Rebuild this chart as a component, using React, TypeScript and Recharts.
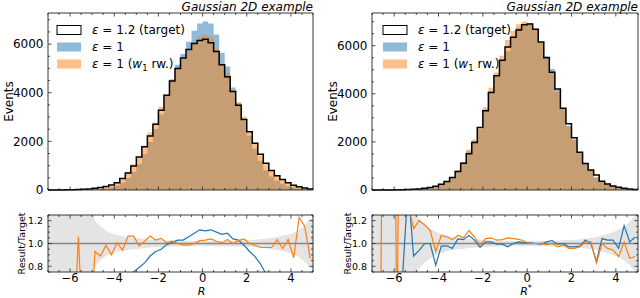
import React from 'react';
import { Area, ComposedChart, Line, ReferenceLine, XAxis, YAxis } from 'recharts';

// 48 bins of width 0.25 between -7 and 5
const binEdges = Array.from({ length: 49 }, (_, i) => -7 + i * 0.25);
const binCenters = binEdges.slice(0, 48).map((e) => e + 0.125);

// ---- left panel (R) ----
const targetR = [0, 2, 4, 8, 12, 18, 30, 45, 70, 100, 140, 205, 300, 470, 700, 990, 1360, 1780, 2220, 2700, 3280, 3900, 4480, 5000, 5430, 5780, 6030, 6150, 6200, 6060, 5700, 5150, 4660, 4050, 3490, 2900, 2400, 1920, 1470, 1100, 800, 590, 430, 300, 200, 130, 80, 45];
const nominalR = [0, 0, 0, 0, 4, 5, 10, 18, 32, 50, 70, 113, 180, 305, 490, 742, 1074, 1477, 1976, 2511, 3116, 3861, 4525, 5150, 5593, 6100, 6550, 6850, 6930, 6850, 6400, 5650, 5079, 4212, 3595, 2857, 2232, 1699, 1205, 803, 560, 384, 258, 165, 100, 59, 32, 16];
const reweightR = [0, 0, 0, 0, 0, 19, 0, 0, 65, 89, 138, 185, 303, 442, 746, 1054, 1333, 1816, 2364, 2781, 3428, 3920, 4570, 5000, 5349, 5693, 6030, 6304, 6386, 6302, 5814, 5176, 4823, 4050, 3577, 3016, 2400, 1891, 1419, 1062, 772, 611, 411, 311, 175, 160, 92, 39];
const ratioNominalR = [0, 0, 0, 0, 0.3, 0.3, 0.35, 0.4, 0.45, 0.5, 0.5, 0.55, 0.6, 0.65, 0.7, 0.75, 0.79, 0.83, 0.89, 0.93, 0.95, 0.99, 1.01, 1.03, 1.03, 1.06, 1.09, 1.12, 1.11, 1.12, 1.1, 1.08, 1.09, 1.04, 1.03, 0.985, 0.93, 0.885, 0.82, 0.73, 0.7, 0.65, 0.6, 0.55, 0.5, 0.45, 0.4, 0.35];
const ratioReweightR = [0, 0, 0, 0, 0, 1.06, 0, 0, 0.93, 0.89, 0.985, 0.9, 1.01, 0.94, 1.065, 1.065, 0.98, 1.02, 1.065, 1.03, 1.045, 1.005, 1.02, 1.0, 0.985, 0.985, 1.0, 1.025, 1.03, 1.04, 1.02, 1.005, 1.035, 1.0, 1.025, 1.04, 1.0, 0.985, 0.965, 0.965, 0.965, 1.035, 0.955, 1.035, 0.875, 1.23, 1.15, 0.87];
const bandR = [0.6, 0.6, 0.6, 0.6, 0.6, 0.6, 0.5, 0.35, 0.2, 0.15, 0.11, 0.09, 0.075, 0.065, 0.055, 0.05, 0.045, 0.04, 0.035, 0.032, 0.03, 0.028, 0.026, 0.025, 0.024, 0.024, 0.023, 0.023, 0.023, 0.023, 0.024, 0.024, 0.025, 0.026, 0.027, 0.028, 0.03, 0.033, 0.037, 0.042, 0.05, 0.058, 0.067, 0.08, 0.095, 0.12, 0.16, 0.22];

// ---- right panel (R*) ----
const targetS = [0, 1, 1, 2, 6, 6, 18, 30, 45, 70, 105, 160, 240, 350, 520, 770, 1110, 1510, 1980, 2600, 3300, 4050, 4750, 5400, 5950, 6350, 6650, 6870, 6900, 6680, 6150, 5500, 4900, 4200, 3400, 2750, 2170, 1570, 1100, 830, 620, 360, 250, 170, 110, 70, 40, 20];
const nominalS = [0, 0, 0, 0, 0, 4, 27, 27, 42, 70, 105, 130, 234, 343, 498, 801, 1148, 1616, 2039, 2512, 3346, 4107, 4722, 5368, 5777, 6350, 6743, 6911, 6941, 6680, 6113, 5577, 5027, 4175, 3400, 2670, 2107, 1534, 1133, 830, 523, 375, 257, 175, 105, 81, 41, 21];
const reweightS = [0, 0, 6, 12, 0, 36, 24, 34, 54, 81, 117, 149, 257, 370, 538, 824, 1166, 1682, 2093, 2564, 3442, 4248, 4888, 5584, 6242, 6623, 6896, 7007, 6900, 6680, 6150, 5445, 4900, 4074, 3352, 2632, 2077, 1523, 1115, 842, 515, 360, 239, 160, 97, 71, 35, 18];
const ratioNominalS = [0, 0, 0, 0, 0, 0.7, 1.5, 0.89, 0.94, 1.0, 1.0, 0.81, 0.977, 0.98, 0.957, 1.04, 1.034, 1.07, 1.03, 0.966, 1.014, 1.014, 0.994, 0.994, 0.971, 1.0, 1.014, 1.006, 1.006, 1.0, 0.994, 1.014, 1.026, 0.994, 1.0, 0.971, 0.971, 0.977, 1.03, 1.0, 0.843, 1.043, 1.029, 1.029, 0.957, 1.157, 1.014, 1.057];
const ratioReweightS = [0, 0, 6, 6, 0, 6, 1.35, 1.13, 1.2, 1.163, 1.114, 0.93, 1.07, 1.057, 1.034, 1.07, 1.05, 1.114, 1.057, 0.986, 1.043, 1.049, 1.029, 1.034, 1.049, 1.043, 1.037, 1.02, 1.0, 1.0, 1.0, 0.99, 1.0, 0.97, 0.986, 0.957, 0.957, 0.97, 1.014, 1.014, 0.83, 1.0, 0.957, 0.943, 0.886, 1.014, 0.871, 0.886];
const bandS = [0.6, 0.6, 0.6, 0.6, 0.6, 0.6, 0.45, 0.3, 0.22, 0.17, 0.13, 0.1, 0.085, 0.07, 0.058, 0.05, 0.045, 0.04, 0.035, 0.032, 0.03, 0.028, 0.026, 0.025, 0.024, 0.023, 0.023, 0.022, 0.022, 0.023, 0.023, 0.024, 0.025, 0.026, 0.028, 0.03, 0.032, 0.036, 0.042, 0.048, 0.055, 0.07, 0.083, 0.1, 0.12, 0.15, 0.19, 0.25];

// ---- ticks ----
const xTicks = [-7, -6.5, -6, -5.5, -5, -4.5, -4, -3.5, -3, -2.5, -2, -1.5, -1, -0.5, 0, 0.5, 1, 1.5, 2, 2.5, 3, 3.5, 4, 4.5, 5];
const xMajor = [-6, -4, -2, 0, 2, 4];
const eventTicks = [0, 500, 1000, 1500, 2000, 2500, 3000, 3500, 4000, 4500, 5000, 5500, 6000, 6500, 7000];
const eventMajor = [0, 2000, 4000, 6000];
const ratioTicks = [0.75, 0.8, 0.85, 0.9, 0.95, 1, 1.05, 1.1, 1.15, 1.2, 1.25];
const ratioMajor = [0.8, 1, 1.2];

const FONT = '"DejaVu Sans", sans-serif';
const INK = '#222';
const BLUE = '#1f77b4';
const ORANGE = '#ff7f0e';

type Side = 'left' | 'right' | 'top' | 'bottom';
type TickLabel = { size: number; gap: number; fmt: (v: number) => string };

const isMajor = (list: number[], v: number) => list.some((m) => Math.abs(m - v) < 1e-6);
const fmtX = (v: number) => (v < 0 ? '\u2212' + Math.abs(v) : String(v));
const fmtInt = (v: number) => String(v);
const fmtRatio = (v: number) => v.toFixed(1);

// inward ticks (matplotlib style), labels only on major ticks
const makeTick = (side: Side, majors: number[], label?: TickLabel) => (props: any) => {
  const { x, y, payload } = props;
  const major = isMajor(majors, payload.value);
  const len = major ? 3.5 : 2;
  let x2 = x;
  let y2 = y;
  if (side === 'left') x2 = x + len;
  if (side === 'right') x2 = x - len;
  if (side === 'top') y2 = y + len;
  if (side === 'bottom') y2 = y - len;
  let text = null;
  if (label && major) {
    const s = label.fmt(payload.value);
    if (side === 'left') {
      text = (
        <text x={x - label.gap} y={y} dy="0.36em" textAnchor="end" fontSize={label.size} fontFamily={FONT} fill="#000">
          {s}
        </text>
      );
    } else if (side === 'bottom') {
      text = (
        <text x={x} y={y + label.gap} textAnchor="middle" fontSize={label.size} fontFamily={FONT} fill="#000">
          {s}
        </text>
      );
    }
  }
  return (
    <g>
      <line x1={x} y1={y} x2={x2} y2={y2} stroke={INK} strokeWidth={0.8} />
      {text}
    </g>
  );
};

const axisLine = { stroke: INK, strokeWidth: 0.9 };

interface HistProps {
  left: number;
  axisWidth: number;
  rightMargin: number;
  target: number[];
  nominal: number[];
  reweight: number[];
  yMax: number;
}

// axes of height/width 1 so that recharts still draws them; margins compensate
const HistPanel = ({ left, axisWidth, rightMargin, target, nominal, reweight, yMax }: HistProps) => {
  const rows = binEdges.map((x, i) => {
    const k = Math.min(i, 47);
    return { x, target: target[k], nominal: nominal[k], reweight: reweight[k] };
  });
  return (
    <div style={{ position: 'absolute', left, top: 0 }}>
      <ComposedChart width={320} height={200} data={rows} margin={{ top: 12, right: rightMargin - 1, bottom: 9, left: 0 }}>
        <XAxis dataKey="x" type="number" domain={[-7, 5]} ticks={xTicks} interval={0} height={1} tickSize={0} tickMargin={0} tickLine={false} axisLine={axisLine} tick={makeTick('bottom', xMajor)} />
        <XAxis xAxisId="top" orientation="top" dataKey="x" type="number" domain={[-7, 5]} ticks={xTicks} interval={0} height={1} tickSize={0} tickMargin={0} tickLine={false} axisLine={axisLine} tick={makeTick('top', xMajor)} />
        <YAxis type="number" domain={[0, yMax]} ticks={eventTicks} interval={0} width={axisWidth} tickSize={0} tickMargin={0} tickLine={false} axisLine={axisLine} tick={makeTick('left', eventMajor, { size: 12, gap: 4.5, fmt: fmtInt })} />
        <YAxis yAxisId="right" orientation="right" type="number" domain={[0, yMax]} ticks={eventTicks} interval={0} width={1} tickSize={0} tickMargin={0} tickLine={false} axisLine={axisLine} tick={makeTick('right', eventMajor)} />
        <Area dataKey="nominal" type="stepAfter" stroke="none" fill={BLUE} fillOpacity={0.5} isAnimationActive={false} />
        <Area dataKey="reweight" type="stepAfter" stroke="none" fill={ORANGE} fillOpacity={0.5} isAnimationActive={false} />
        <Line dataKey="target" type="stepAfter" stroke="#000" strokeWidth={1.5} dot={false} isAnimationActive={false} />
      </ComposedChart>
    </div>
  );
};

interface RatioProps {
  left: number;
  axisWidth: number;
  rightMargin: number;
  nominal: number[];
  reweight: number[];
  band: number[];
}

const RatioPanel = ({ left, axisWidth, rightMargin, nominal, reweight, band }: RatioProps) => {
  const rows = [
    { x: -7, band: [1 - band[0], 1 + band[0]] },
    ...binCenters.map((x, i) => ({ x, nominal: nominal[i], reweight: reweight[i], band: [1 - band[i], 1 + band[i]] })),
    { x: 5, band: [1 - band[47], 1 + band[47]] },
  ];
  return (
    <div style={{ position: 'absolute', left, top: 200 }}>
      <ComposedChart width={320} height={98} data={rows} margin={{ top: 14, right: rightMargin - 1, bottom: 25, left: 0 }}>
        <XAxis dataKey="x" type="number" domain={[-7, 5]} ticks={xTicks} interval={0} height={1} tickSize={0} tickMargin={0} tickLine={false} axisLine={axisLine} tick={makeTick('bottom', xMajor, { size: 11.5, gap: 10, fmt: fmtX })} />
        <XAxis xAxisId="top" orientation="top" dataKey="x" type="number" domain={[-7, 5]} ticks={xTicks} interval={0} height={1} tickSize={0} tickMargin={0} tickLine={false} axisLine={axisLine} tick={makeTick('top', xMajor)} />
        <YAxis type="number" domain={[0.75, 1.25]} allowDataOverflow ticks={ratioTicks} interval={0} width={axisWidth} tickSize={0} tickMargin={0} tickLine={false} axisLine={axisLine} tick={makeTick('left', ratioMajor, { size: 9.5, gap: 5, fmt: fmtRatio })} />
        <YAxis yAxisId="right" orientation="right" type="number" domain={[0.75, 1.25]} allowDataOverflow ticks={ratioTicks} interval={0} width={1} tickSize={0} tickMargin={0} tickLine={false} axisLine={axisLine} tick={makeTick('right', ratioMajor)} />
        <Area dataKey="band" type="linear" stroke="none" fill="#e4e4e4" fillOpacity={1} isAnimationActive={false} />
        <ReferenceLine y={1} stroke="#888" strokeWidth={1.5} />
        <Line dataKey="nominal" type="linear" stroke={BLUE} strokeWidth={1.2} dot={false} isAnimationActive={false} />
        <Line dataKey="reweight" type="linear" stroke={ORANGE} strokeWidth={1.2} dot={false} isAnimationActive={false} />
      </ComposedChart>
    </div>
  );
};

const LegendBox = ({ x }: { x: number }) => {
  const textX = x + 35;
  const rows = [30, 47, 64];
  return (
    <g fontFamily={FONT} fontSize={12} fill="#000">
      <rect x={x} y={rows[0] - 4.5} width={24} height={9} fill="#fff" stroke="#000" strokeWidth={1} />
      <rect x={x} y={rows[1] - 4.5} width={24} height={9} fill={BLUE} fillOpacity={0.5} />
      <rect x={x} y={rows[2] - 4.5} width={24} height={9} fill={ORANGE} fillOpacity={0.5} />
      <text x={textX} y={rows[0]} dy="0.36em">
        <tspan fontStyle="italic">ε</tspan>
        {' = 1.2 (target)'}
      </text>
      <text x={textX} y={rows[1]} dy="0.36em">
        <tspan fontStyle="italic">ε</tspan>
        {' = 1'}
      </text>
      <text x={textX} y={rows[2]} dy="0.36em">
        <tspan fontStyle="italic">ε</tspan>
        {' = 1 ('}
        <tspan fontStyle="italic">w</tspan>
        <tspan fontSize={8.5} dy={2.5}>1</tspan>
        <tspan dy={-2.5}>{' rw.)'}</tspan>
      </text>
    </g>
  );
};

const Overlay = () => (
  <svg width={640} height={298} style={{ position: 'absolute', left: 0, top: 0, pointerEvents: 'none' }}>
    <g fontFamily={FONT} fill="#000">
      <text x={313} y={10.5} textAnchor="end" fontSize={12} fontStyle="italic">Gaussian 2D example</text>
      <text x={638} y={10.5} textAnchor="end" fontSize={12} fontStyle="italic">Gaussian 2D example</text>
      <text transform="translate(13,101.5) rotate(-90)" textAnchor="middle" fontSize={12}>Events</text>
      <text transform="translate(337,101.5) rotate(-90)" textAnchor="middle" fontSize={12}>Events</text>
      <text transform="translate(24.5,243.5) rotate(-90)" textAnchor="middle" fontSize={9.5}>Result/Target</text>
      <text transform="translate(351,243.5) rotate(-90)" textAnchor="middle" fontSize={9.5}>Result/Target</text>
      <text x={201.5} y={295} textAnchor="middle" fontSize={11} fontStyle="italic">R</text>
      <text x={526} y={295} textAnchor="middle" fontSize={11}>
        <tspan fontStyle="italic">R</tspan>
        <tspan fontSize={8} dy={-4.5}>*</tspan>
      </text>
    </g>
    <LegendBox x={57} />
    <LegendBox x={383} />
  </svg>
);

const App = () => (
  <div style={{ position: 'absolute', left: 0, top: 0, width: 640, height: 298, background: '#fff', overflow: 'hidden' }}>
    <HistPanel left={0} axisWidth={48} rightMargin={7} target={targetR} nominal={nominalR} reweight={reweightR} yMax={7280} />
    <HistPanel left={320} axisWidth={52} rightMargin={2} target={targetS} nominal={nominalS} reweight={reweightS} yMax={7360} />
    <RatioPanel left={0} axisWidth={48} rightMargin={7} nominal={ratioNominalR} reweight={ratioReweightR} band={bandR} />
    <RatioPanel left={320} axisWidth={52} rightMargin={2} nominal={ratioNominalS} reweight={ratioReweightS} band={bandS} />
    <Overlay />
  </div>
);

export default App;
